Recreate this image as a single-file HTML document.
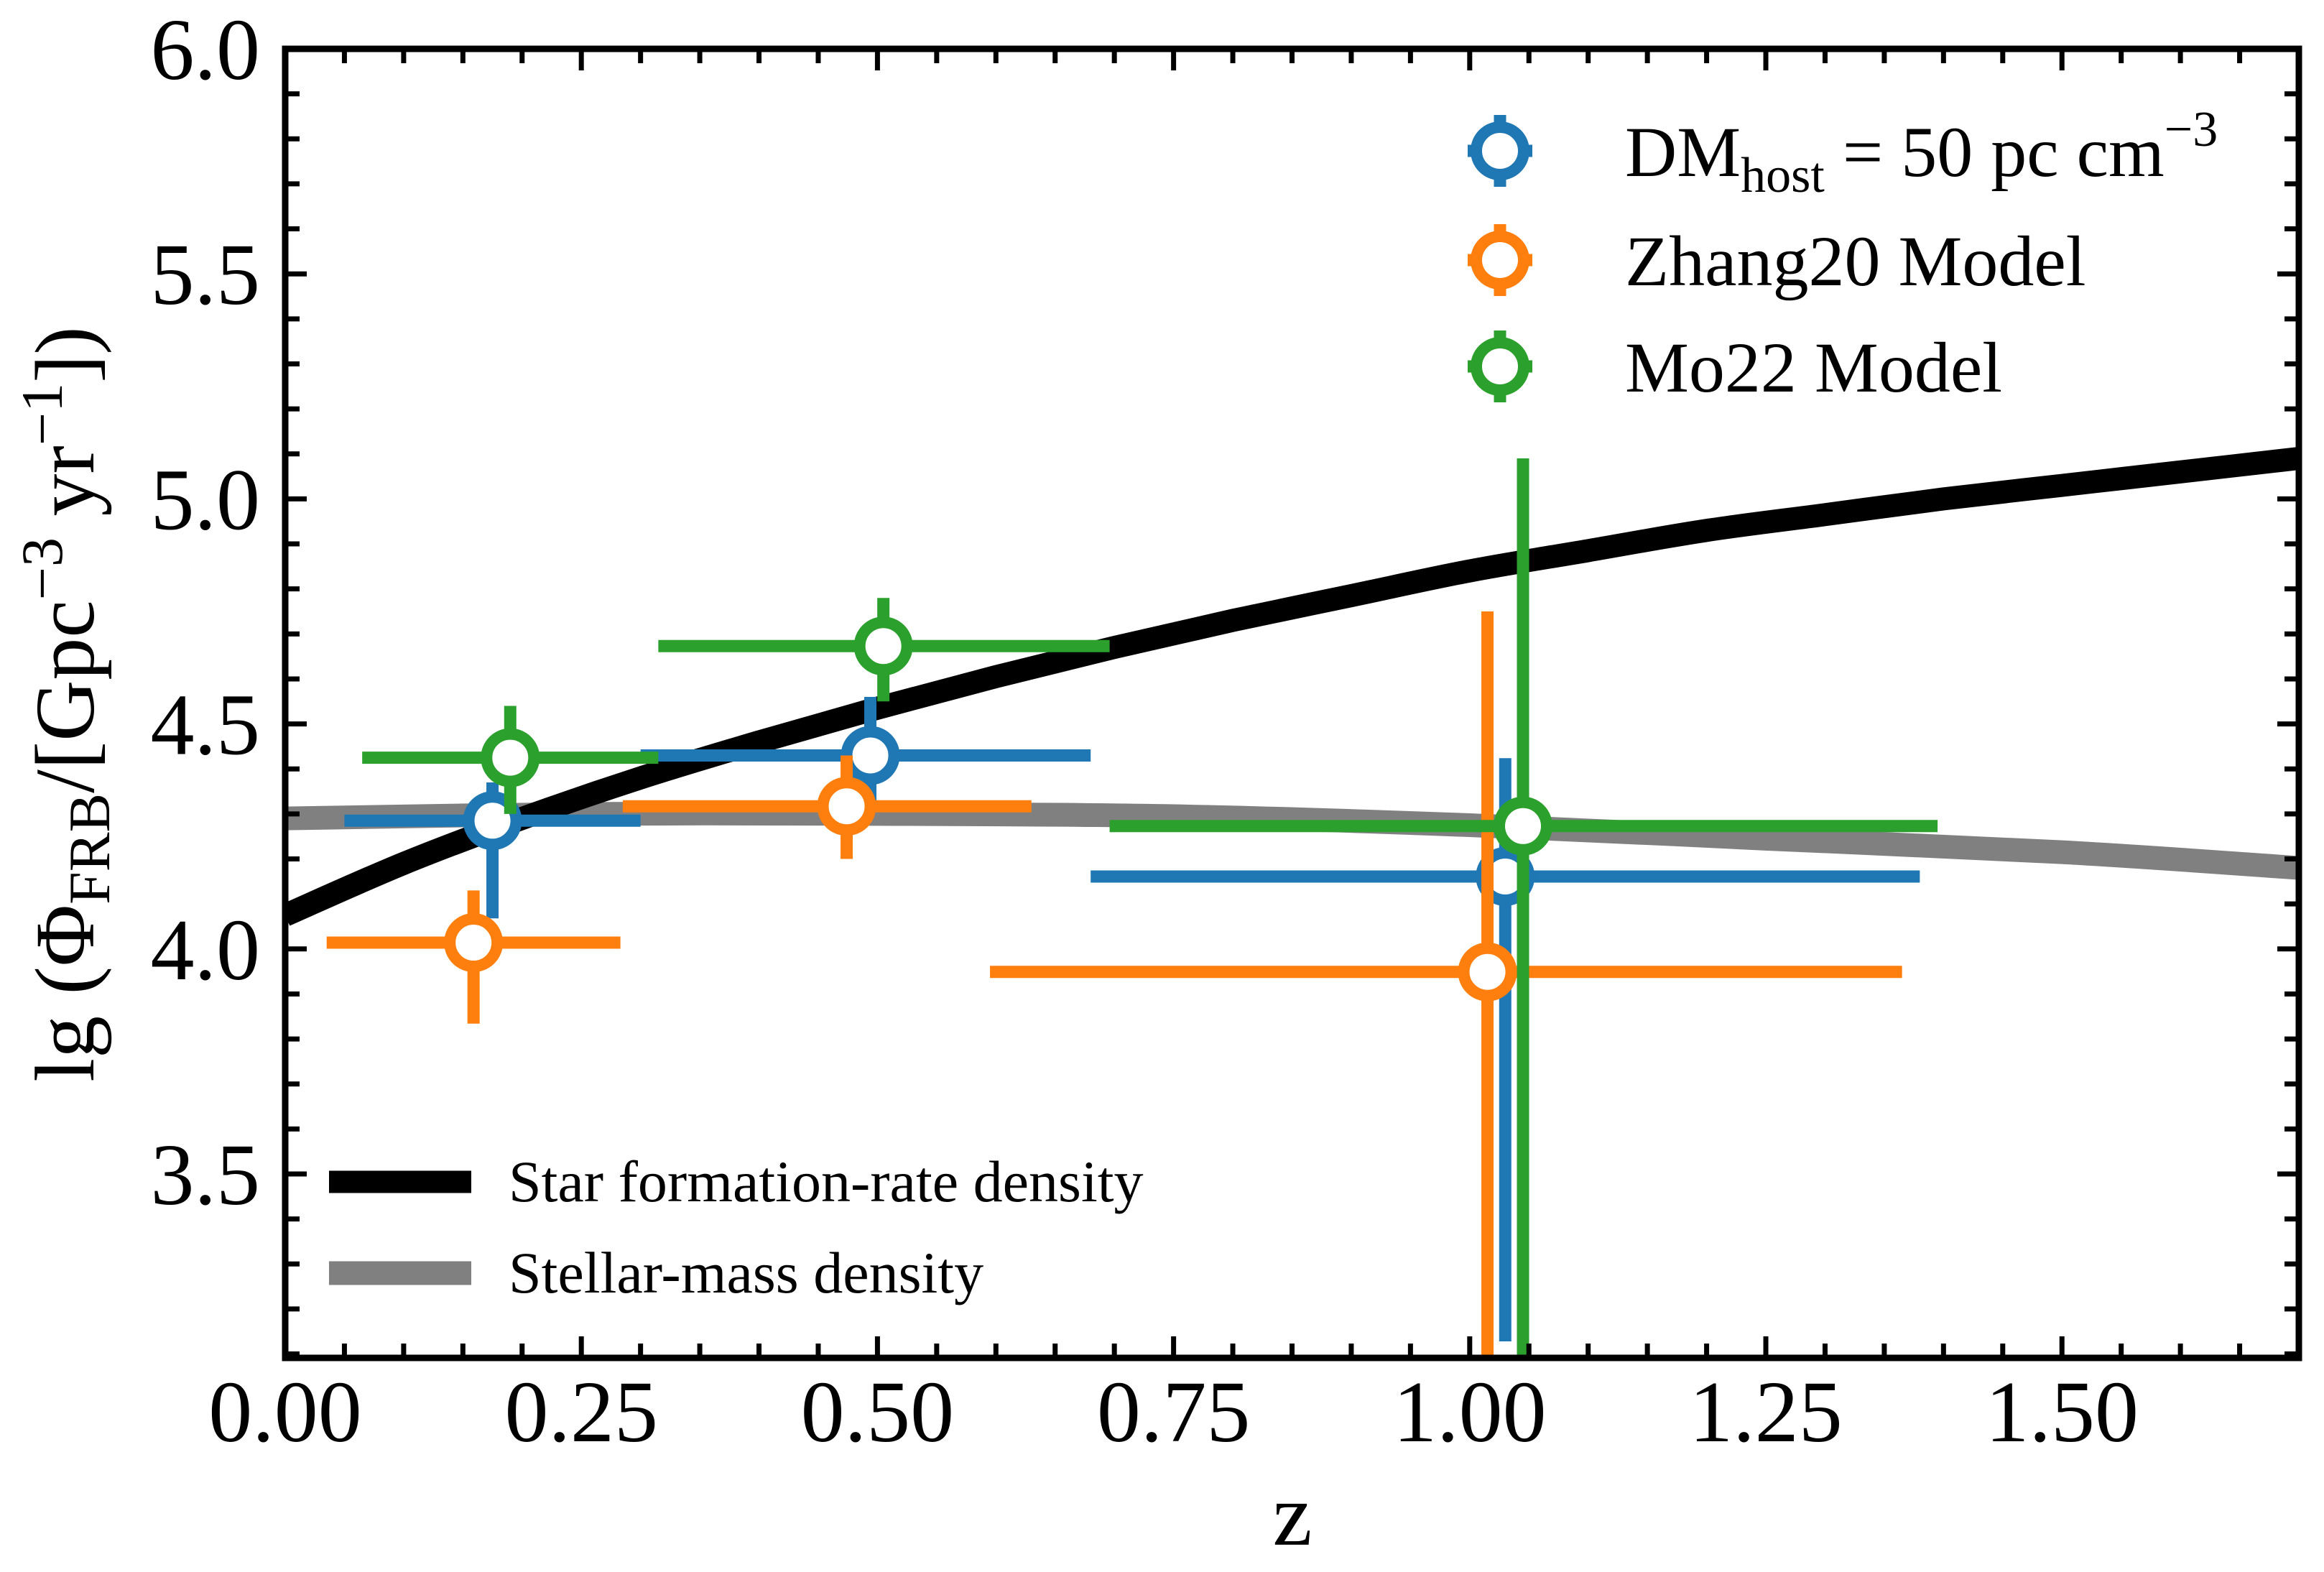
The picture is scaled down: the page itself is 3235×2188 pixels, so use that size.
<!DOCTYPE html>
<html><head><meta charset="utf-8"><style>
html,body{margin:0;padding:0;background:#fff}
svg{display:block}
text{font-family:"Liberation Serif",serif;fill:#000}
</style></head><body>
<svg id="chart" width="3235" height="2188" viewBox="0 0 3235 2188" xmlns="http://www.w3.org/2000/svg">
<defs><clipPath id="plotclip"><rect x="397" y="68" width="2803" height="1822"/></clipPath></defs>
<g id="curves" clip-path="url(#plotclip)"></g>
<g id="points" clip-path="url(#plotclip)"></g>
<g id="axes"></g>
<text x="1799" y="2150" font-size="124" text-anchor="middle">z</text>
<text transform="translate(130,980) rotate(-90)" font-size="118" text-anchor="middle">lg (Φ<tspan font-size="82" dy="22">FRB</tspan><tspan dy="-22">/[Gpc</tspan><tspan font-size="82" dy="-44">−3</tspan><tspan dy="44"> yr</tspan><tspan font-size="82" dy="-44">−1</tspan><tspan dy="44">])</tspan></text>
<g id="legend-top"></g>
<g id="legend-bottom"></g>
</svg>
<script>
const sfrZ = [0,0.1,0.2,0.3,0.4,0.5,0.6,0.7,0.8,0.9,1.0,1.1,1.2,1.3,1.4,1.5,1.6,1.7];
const sfrY = [4.075,4.19,4.29,4.38,4.46,4.535,4.605,4.67,4.73,4.785,4.84,4.885,4.93,4.965,5.0,5.03,5.06,5.09];
const smdZ = [0,0.25,0.5,0.75,1.0,1.25,1.5,1.7];
const smdY = [4.29,4.3,4.3,4.295,4.275,4.245,4.215,4.18];
const seriesNames = ['dm-host-50','zhang20','mo22'];
const seriesColors = ['#1f77b4','#ff7f0e','#2ca02c'];
const ptZ = [[0.175,0.494,1.030],[0.159,0.474,1.015],[0.19,0.505,1.045]];
const ptY = [[4.285,4.43,4.161],[4.014,4.317,3.949],[4.425,4.673,4.273]];
const zLo = [[0.05,0.30,0.68],[0.035,0.285,0.595],[0.065,0.315,0.696]];
const zHi = [[0.30,0.68,1.38],[0.283,0.63,1.365],[0.315,0.696,1.395]];
const yLo = [[4.068,4.33,3.128],[3.834,4.2,2.9],[4.30,4.55,2.9]];
const yHi = [[4.37,4.56,4.424],[4.13,4.43,4.75],[4.54,4.78,5.09]];
const xTicks = [0,0.25,0.5,0.75,1.0,1.25,1.5];
const xTickLabels = ['0.00','0.25','0.50','0.75','1.00','1.25','1.50'];
const yTicks = [3.5,4.0,4.5,5.0,5.5,6.0];
const yTickLabels = ['3.5','4.0','4.5','5.0','5.5','6.0'];
const legendLabels = ['DM','Zhang20 Model','Mo22 Model'];
const curveLabels = ['Star formation-rate density','Stellar-mass density'];

const NS='http://www.w3.org/2000/svg';
const X0=397,X1=3200,Y0=68,Y1=1890;
const xMin=0,xMax=1.7,yMin=6-(Y1-Y0)/626.4,yMax=6;
function sx(v){return X0+(v-xMin)/(xMax-xMin)*(X1-X0);}
function sy(v){return Y1-(v-yMin)/(yMax-yMin)*(Y1-Y0);}
function mk(tag,attrs,parent){const e=document.createElementNS(NS,tag);for(const k in attrs)e.setAttribute(k,attrs[k]);parent.appendChild(e);return e;}
function smooth(xs,ys){const P=xs.map((x,i)=>[sx(x),sy(ys[i])]);let d='M'+P[0][0]+','+P[0][1];
  for(let i=0;i<P.length-1;i++){const p0=P[Math.max(0,i-1)],p1=P[i],p2=P[i+1],p3=P[Math.min(P.length-1,i+2)];
    const c1=[p1[0]+(p2[0]-p0[0])/6,p1[1]+(p2[1]-p0[1])/6],c2=[p2[0]-(p3[0]-p1[0])/6,p2[1]-(p3[1]-p1[1])/6];
    d+='C'+c1[0]+','+c1[1]+' '+c2[0]+','+c2[1]+' '+p2[0]+','+p2[1];}
  return d;}

const curves=document.getElementById('curves');
let p=mk('path',{d:smooth(smdZ,smdY),fill:'none',stroke:'#808080','stroke-width':33},curves);


p=mk('path',{d:smooth(sfrZ,sfrY),fill:'none',stroke:'#000','stroke-width':32},curves);



const pts=document.getElementById('points');
for(let s=0;s<3;s++){
  for(let i=0;i<ptZ[s].length;i++){
    const g=mk('g',{},pts);
    
    
    const c=seriesColors[s];
    mk('line',{x1:sx(zLo[s][i]),x2:sx(zHi[s][i]),y1:sy(ptY[s][i]),y2:sy(ptY[s][i]),stroke:c,'stroke-width':17},g);
    mk('line',{x1:sx(ptZ[s][i]),x2:sx(ptZ[s][i]),y1:sy(yLo[s][i]),y2:sy(yHi[s][i]),stroke:c,'stroke-width':17},g);
    mk('circle',{cx:sx(ptZ[s][i]),cy:sy(ptY[s][i]),r:33,fill:'#fff',stroke:c,'stroke-width':16},g);
  }
}

const ax=document.getElementById('axes');
mk('rect',{x:X0,y:Y0,width:X1-X0,height:Y1-Y0,fill:'none',stroke:'#000','stroke-width':9},ax);
for(let k=0;k<=34;k++){const v=k*0.05;const x=sx(v);const L=(k%5===0)?30:20;
  mk('line',{x1:x,x2:x,y1:Y1,y2:Y1-L,stroke:'#000','stroke-width':7},ax);
  mk('line',{x1:x,x2:x,y1:Y0,y2:Y0+L,stroke:'#000','stroke-width':7},ax);}
for(let k=31;k<=60;k++){const v=k*0.1;const y=sy(v);const L=(k%5===0)?30:20;
  mk('line',{x1:X0,x2:X0+L,y1:y,y2:y,stroke:'#000','stroke-width':7},ax);
  mk('line',{x1:X1,x2:X1-L,y1:y,y2:y,stroke:'#000','stroke-width':7},ax);}
xTicks.forEach((v,i)=>{const t=mk('text',{x:sx(v),y:2006,'font-size':122,'text-anchor':'middle'},ax);t.textContent=xTickLabels[i];
  
  });
yTicks.forEach((v,i)=>{const t=mk('text',{x:362,y:sy(v)+42,'font-size':122,'text-anchor':'end'},ax);t.textContent=yTickLabels[i];
  
  });

const lt=document.getElementById('legend-top');
const legY=[210,362,510];
for(let s=0;s<3;s++){
  const g=mk('g',{},lt);
  
  
  const c=seriesColors[s];
  mk('line',{x1:2043,x2:2133,y1:legY[s],y2:legY[s],stroke:c,'stroke-width':17},g);
  mk('line',{x1:2088,x2:2088,y1:legY[s]-50,y2:legY[s]+50,stroke:c,'stroke-width':17},g);
  mk('circle',{cx:2088,cy:legY[s],r:33,fill:'#fff',stroke:c,'stroke-width':16},g);
  const t=mk('text',{x:2262,y:legY[s]+35,'font-size':100},g);
  if(s===0){t.innerHTML='DM<tspan font-size="70" dy="22">host</tspan><tspan dy="-22"> = 50 pc cm</tspan><tspan font-size="70" dy="-42">−3</tspan>';}
  else t.textContent=legendLabels[s];
}
const lb=document.getElementById('legend-bottom');
const cy2=[1645,1772],cc=['#000','#808080'],cw=[31,33],cn=['legend-entry-sfr','legend-entry-stellar-mass'];
for(let i=0;i<2;i++){
  const g=mk('g',{},lb);
  
  
  mk('line',{x1:458,x2:656,y1:cy2[i],y2:cy2[i],stroke:cc[i],'stroke-width':cw[i]},g);
  const t=mk('text',{x:708,y:cy2[i]+27,'font-size':82},g);t.textContent=curveLabels[i];
}
</script>
</body></html>
